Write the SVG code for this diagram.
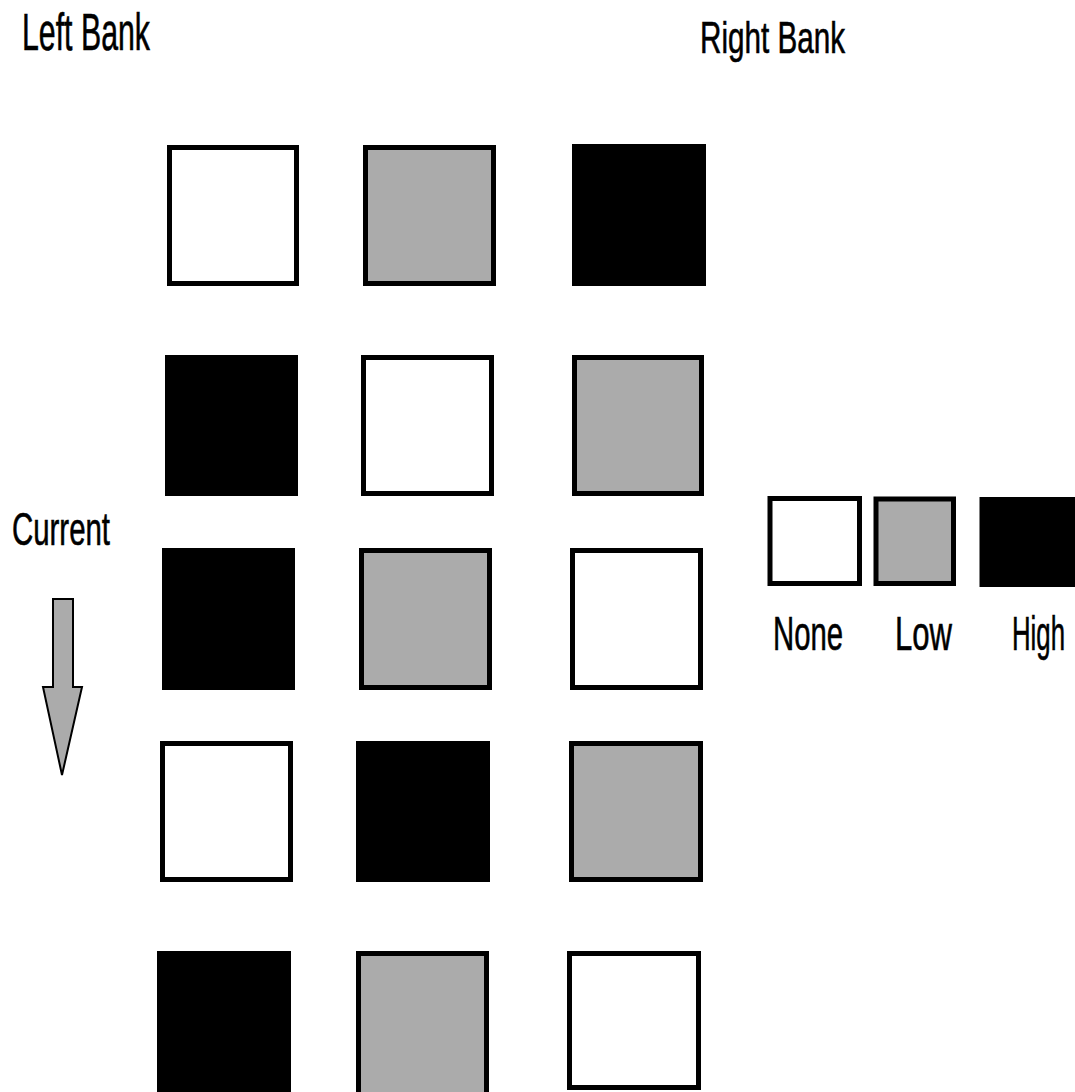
<svg xmlns="http://www.w3.org/2000/svg" width="1075" height="1092" viewBox="0 0 1075 1092">
<style>
.t{font-family:"Liberation Sans Narrow","Liberation Sans",Arial,sans-serif;fill:#000;stroke:#000;stroke-width:0.6}
.sq{stroke:#000;stroke-width:5}
.n{fill:#fff}
.l{fill:#ababab}
.h{fill:#000}
</style>
<rect width="1075" height="1092" fill="#fff"/>
<text class="t" x="22" y="50" font-size="51" textLength="128" lengthAdjust="spacingAndGlyphs">Left Bank</text>
<text class="t" x="700" y="53" font-size="45" textLength="145" lengthAdjust="spacingAndGlyphs">Right Bank</text>
<text class="t" x="12" y="545" font-size="46" textLength="98" lengthAdjust="spacingAndGlyphs">Current</text>
<g id="arrow">
<polygon points="53,599 73,599 73,687 82,687 62,775 43,687 53,687" fill="#ababab" stroke="#000" stroke-width="2"/>
</g>
<g id="row1">
<rect id="r1c1" class="sq n" x="169.5" y="147.5" width="127" height="136"/>
<rect id="r1c2" class="sq l" x="365.5" y="147.5" width="128" height="136"/>
<rect id="r1c3" class="sq h" x="574.5" y="146.5" width="129" height="137"/>
</g>
<g id="row2">
<rect id="r2c1" class="sq h" x="167.5" y="357.5" width="128" height="136"/>
<rect id="r2c2" class="sq n" x="363.5" y="357.5" width="128" height="136"/>
<rect id="r2c3" class="sq l" x="574.5" y="357.5" width="127" height="136"/>
</g>
<g id="row3">
<rect id="r3c1" class="sq h" x="164.5" y="550.5" width="128" height="137"/>
<rect id="r3c2" class="sq l" x="361.5" y="550.5" width="128" height="137"/>
<rect id="r3c3" class="sq n" x="572.5" y="550.5" width="128" height="137"/>
</g>
<g id="row4">
<rect id="r4c1" class="sq n" x="162.5" y="743.5" width="128" height="136"/>
<rect id="r4c2" class="sq h" x="358.5" y="743.5" width="129" height="136"/>
<rect id="r4c3" class="sq l" x="571.5" y="743.5" width="129" height="136"/>
</g>
<g id="row5">
<rect id="r5c1" class="sq h" x="159.5" y="953.5" width="129" height="145"/>
<rect id="r5c2" class="sq l" x="358.5" y="953.5" width="128" height="145"/>
<rect id="r5c3" class="sq n" x="569.5" y="953.5" width="129" height="134"/>
</g>
<g id="legend">
<rect id="leg-none" class="sq n" x="770" y="498.5" width="89.5" height="85"/>
<rect id="leg-low" class="sq l" x="876" y="499" width="77.5" height="84.5"/>
<rect id="leg-high" class="sq h" x="982" y="499.5" width="95" height="85"/>
<text class="t" x="773" y="650" font-size="48" textLength="70" lengthAdjust="spacingAndGlyphs">None</text>
<text class="t" x="895" y="650" font-size="48" textLength="57" lengthAdjust="spacingAndGlyphs">Low</text>
<text class="t" x="1012" y="650" font-size="48" textLength="53" lengthAdjust="spacingAndGlyphs">High</text>
</g>
</svg>
